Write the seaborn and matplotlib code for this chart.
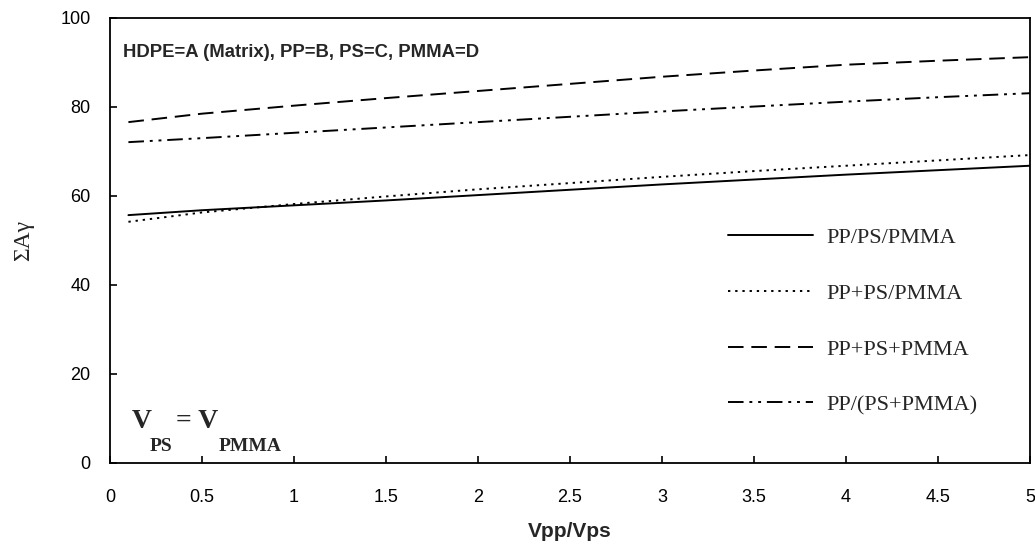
import pandas as pd
import seaborn as sns
import matplotlib.pyplot as plt

x_vals = [0.1, 0.5, 1.0, 1.5, 2.0, 2.5, 3.0, 3.5, 4.0, 4.5, 5.0]

pp_ps_pmma = [55.7, 56.8, 57.9, 59.0, 60.2, 61.4, 62.6, 63.7, 64.8, 65.8, 66.8]
pp_plus_ps_pmma = [54.2, 56.3, 58.2, 59.9, 61.5, 62.9, 64.3, 65.6, 66.8, 68.0, 69.2]
pp_plus_ps_plus_pmma = [76.6, 78.5, 80.3, 82.0, 83.6, 85.2, 86.8, 88.2, 89.5, 90.4, 91.2]
pp_over_ps_plus_pmma = [72.1, 73.0, 74.2, 75.4, 76.6, 77.8, 79.0, 80.1, 81.2, 82.2, 83.1]

series_names = ["PP/PS/PMMA", "PP+PS/PMMA", "PP+PS+PMMA", "PP/(PS+PMMA)"]
series_values = [pp_ps_pmma, pp_plus_ps_pmma, pp_plus_ps_plus_pmma, pp_over_ps_plus_pmma]

rows = []
for name, vals in zip(series_names, series_values):
    for xv, yv in zip(x_vals, vals):
        rows.append({"ratio": xv, "value": yv, "blend": name})
df = pd.DataFrame(rows)

sns.set_style("ticks")
plt.rcParams["font.family"] = ["Liberation Sans", "DejaVu Sans"]

fig = plt.figure(figsize=(10.35, 5.47), dpi=100)
ax = fig.add_axes([0.1063, 0.1536, 0.8889, 0.8135])

dash_map = {
    "PP/PS/PMMA": "",
    "PP+PS/PMMA": (1.2, 2.5),
    "PP+PS+PMMA": (8, 4),
    "PP/(PS+PMMA)": (8, 3, 1.5, 3, 1.5, 3),
}

sns.lineplot(data=df, x="ratio", y="value", style="blend", style_order=series_names,
             dashes=dash_map, color="black", linewidth=1.4, ax=ax)

ax.set_xlim(0, 5)
ax.set_ylim(0, 100)
ax.set_xticks([0, 0.5, 1, 1.5, 2, 2.5, 3, 3.5, 4, 4.5, 5])
ax.set_xticklabels(["0", "0.5", "1", "1.5", "2", "2.5", "3", "3.5", "4", "4.5", "5"])
ax.set_yticks([0, 20, 40, 60, 80, 100])
ax.tick_params(direction="in", length=5, width=1.2, labelsize=13, colors="black")
ax.tick_params(axis="x", pad=19)
ax.tick_params(axis="y", pad=14)
for sp in ax.spines.values():
    sp.set_linewidth(1.3)
    sp.set_color("black")

ax.set_xlabel("Vpp/Vps", fontsize=15, fontweight="bold", labelpad=11)
ax.set_ylabel("ΣAγ", fontsize=17, family="Liberation Serif", labelpad=19)

ax.text(0.07, 92.2, "HDPE=A (Matrix), PP=B, PS=C, PMMA=D", fontsize=13.3,
        fontweight="bold", va="center", ha="left")

# V_PS = V_PMMA with deep subscripts, built piece by piece
serif_bold = dict(family="Liberation Serif", fontweight="bold")
v1 = ax.text(0.12, 7.9, "V", fontsize=20, va="baseline", ha="left", **serif_bold)
sub1 = ax.annotate("PS", xy=(1, 0), xycoords=v1, xytext=(-2, -15),
                   textcoords="offset points", fontsize=14, va="bottom", **serif_bold)
eq = ax.annotate("= V", xy=(1, 0), xycoords=(sub1, v1), xytext=(3, 0),
                 textcoords="offset points", fontsize=20, va="bottom", **serif_bold)
ax.annotate("PMMA", xy=(1, 0), xycoords=eq, xytext=(0, -15),
            textcoords="offset points", fontsize=14, va="bottom", **serif_bold)

handles, labels = ax.get_legend_handles_labels()
ax.legend(handles, labels, loc="center left", bbox_to_anchor=(0.672, 0.318),
          frameon=False, borderaxespad=0, borderpad=0, handlelength=3.8,
          handletextpad=0.6, labelspacing=1.58,
          prop={"family": "Liberation Serif", "size": 16})

fig.savefig("out.png", dpi=100)
